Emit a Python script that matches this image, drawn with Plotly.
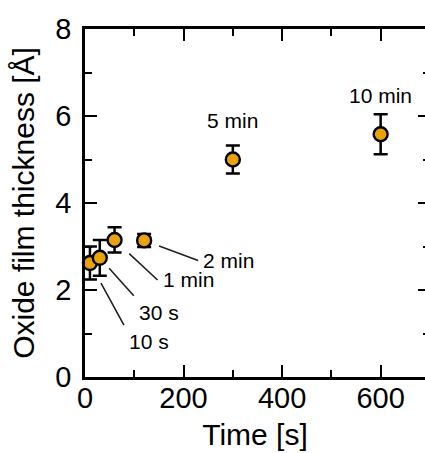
import plotly.graph_objects as go

# Data
time_s = [10, 30, 60, 120, 300, 600]
thickness = [2.62, 2.74, 3.15, 3.14, 5.00, 5.58]
err = [0.38, 0.41, 0.29, 0.15, 0.32, 0.46]
labels = ["10 s", "30 s", "1 min", "2 min", "5 min", "10 min"]

FONT = "Arial, Liberation Sans, sans-serif"
ORANGE = "#E9A20A"

fig = go.Figure()
fig.add_trace(go.Scatter(
    x=time_s, y=thickness, mode="markers",
    error_y=dict(type="data", array=err, visible=True, color="black",
                 thickness=2.5, width=7),
    marker=dict(size=14, color=ORANGE, line=dict(color="black", width=2.4)),
    showlegend=False, cliponaxis=False,
))
# empty trace so the right-hand tick axis is drawn
fig.add_trace(go.Scatter(x=[], y=[], yaxis="y2", showlegend=False, hoverinfo="skip"))

# leader-line labels: (tail offset px, standoff, anchors)
leader = {
    "10 s": dict(ax=34, ay=62, standoff=23, xanchor="left", yanchor="top"),
    "30 s": dict(ax=34, ay=38, standoff=14, xanchor="left", yanchor="top"),
    "1 min": dict(ax=43, ay=40, standoff=20, xanchor="left", yanchor="middle"),
    "2 min": dict(ax=54, ay=20, standoff=16, xanchor="left", yanchor="middle"),
}
for x, y, lab in zip(time_s, thickness, labels):
    if lab in leader:
        p = leader[lab]
        fig.add_annotation(
            x=x, y=y, text=lab, showarrow=True, arrowhead=0, arrowwidth=1.6,
            arrowcolor="#222222", ax=p["ax"], ay=p["ay"], standoff=p["standoff"],
            xanchor=p["xanchor"], yanchor=p["yanchor"], borderpad=4,
            font=dict(family=FONT, size=21, color="black"),
        )
    else:
        fig.add_annotation(
            x=x, y=y, text=lab, showarrow=False, yshift=39,
            font=dict(family=FONT, size=21, color="black"),
        )

tickfont = dict(family=FONT, size=29, color="black")

fig.update_xaxes(
    range=[0, 690], dtick=200, tick0=0,
    showline=True, linecolor="black", linewidth=2.5, mirror="ticks",
    ticks="inside", ticklen=12, tickwidth=2, tickcolor="black",
    minor=dict(dtick=100, ticks="inside", ticklen=7, tickwidth=2, tickcolor="black"),
    showgrid=False, zeroline=False, tickfont=tickfont,
    title=dict(text="Time [s]", font=dict(family=FONT, size=30, color="black"), standoff=12),
    ticklabelstandoff=-7, automargin=False,
)
fig.update_layout(
    yaxis=dict(
        range=[0, 8], dtick=2, tick0=0,
        showline=True, linecolor="black", linewidth=2.5, mirror=False,
        ticks="inside", ticklen=12, tickwidth=2, tickcolor="black",
        minor=dict(dtick=1, ticks="inside", ticklen=7, tickwidth=2, tickcolor="black"),
        showgrid=False, zeroline=False, tickfont=tickfont,
        title=dict(text="Oxide film thickness [Å]", font=dict(family=FONT, size=30, color="black"), standoff=12),
        ticklabelstandoff=5, automargin=False,
    ),
    yaxis2=dict(
        overlaying="y", side="right", anchor="x", range=[0, 8], dtick=2, tick0=0,
        showline=False, ticks="inside", ticklen=7, tickwidth=2, tickcolor="black",
        minor=dict(dtick=1, ticks="inside", ticklen=2, tickwidth=2, tickcolor="black"),
        showticklabels=False, showgrid=False, zeroline=False, automargin=False,
    ),
    width=425, height=453,
    margin=dict(l=85, r=0, t=29, b=76),
    plot_bgcolor="white", paper_bgcolor="white",
    font=dict(family=FONT, color="black"),
)

fig.write_html(
    "out.html",
    config={"displayModeBar": False},
    post_script="document.body.style.margin='0';document.body.style.overflow='hidden';",
)
